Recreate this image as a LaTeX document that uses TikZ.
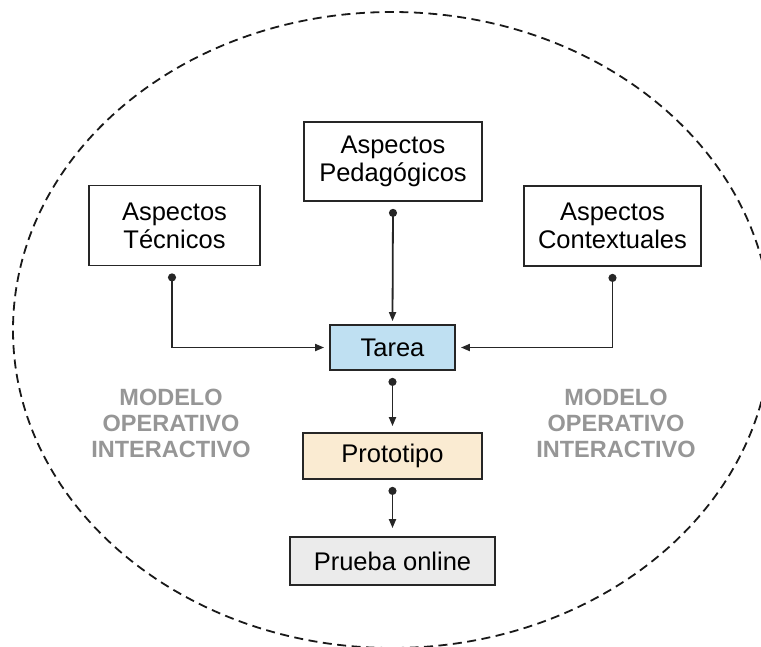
\documentclass[tikz,border=0pt]{standalone}
\usepackage{fontspec}
\setmainfont{Liberation Sans}
\usetikzlibrary{arrows.meta}
\definecolor{linegray}{HTML}{262626}
\definecolor{tareablue}{HTML}{BFE0F2}
\definecolor{protobeige}{HTML}{FAEBD2}
\definecolor{pruebagray}{HTML}{EBEBEB}
\definecolor{labelgray}{HTML}{969696}
\tikzset{
  box/.style={draw=linegray, line width=1.8pt, align=center, inner sep=0pt,
    font=\fontsize{25.5}{28}\selectfont, text=black},
  conn/.style={draw=linegray, line width=1.8pt,
    {Circle[length=8pt]}-{Triangle[length=9pt,width=7pt]}},
  sidelabel/.style={align=center, text=labelgray,
    font=\fontsize{23.5}{26}\selectfont\bfseries},
  outline/.style={draw=black!90, line width=1.8pt, dash pattern=on 9pt off 5.5pt}
}
\begin{document}
\begin{tikzpicture}[x=1pt, y=-1pt]
\useasboundingbox (0,0) rectangle (761,646);
\fill[white] (0,0) rectangle (761,646);
\begin{scope}
\clip (0,0) rectangle (761,646);
\draw[outline] (392,330) ellipse [x radius=379, y radius=318];
\end{scope}

\node[box, minimum width=178pt, minimum height=79pt] (ped) at (393,161.5) {Aspectos\\Pedagógicos};
\node[box, minimum width=171pt, minimum height=80pt] (tec) at (174.5,225.5) {Aspectos\\Técnicos};
\node[box, minimum width=177pt, minimum height=80pt] (ctx) at (612.5,226) {Aspectos\\Contextuales};
\node[box, fill=tareablue, minimum width=125pt, minimum height=45pt] (tarea) at (392.5,347.5) {Tarea};
\node[box, fill=protobeige, minimum width=179pt, minimum height=46pt] (proto) at (392.5,456) {Prototipo};
\node[box, fill=pruebagray, minimum width=205pt, minimum height=48pt] (prueba) at (392.5,561) {Prueba online};

\node[sidelabel] (lmod) at (171,423) {MODELO\\OPERATIVO\\INTERACTIVO};
\node[sidelabel] (rmod) at (616,423) {MODELO\\OPERATIVO\\INTERACTIVO};

\draw[conn] ([shift={(-2.5pt,-7pt)}]tec.south) |- ([xshift=-5pt]tarea.west);
\draw[conn] ([yshift=-7pt]ctx.south) |- ([xshift=5pt]tarea.east);
\draw[conn] ([yshift=-7pt]ped.south) -- ([yshift=3pt]tarea.north);
\draw[conn] ([yshift=-7pt]tarea.south) -- ([yshift=6pt]proto.north);
\draw[conn] ([yshift=-7pt]proto.south) -- ([yshift=8pt]prueba.north);
\end{tikzpicture}
\end{document}
